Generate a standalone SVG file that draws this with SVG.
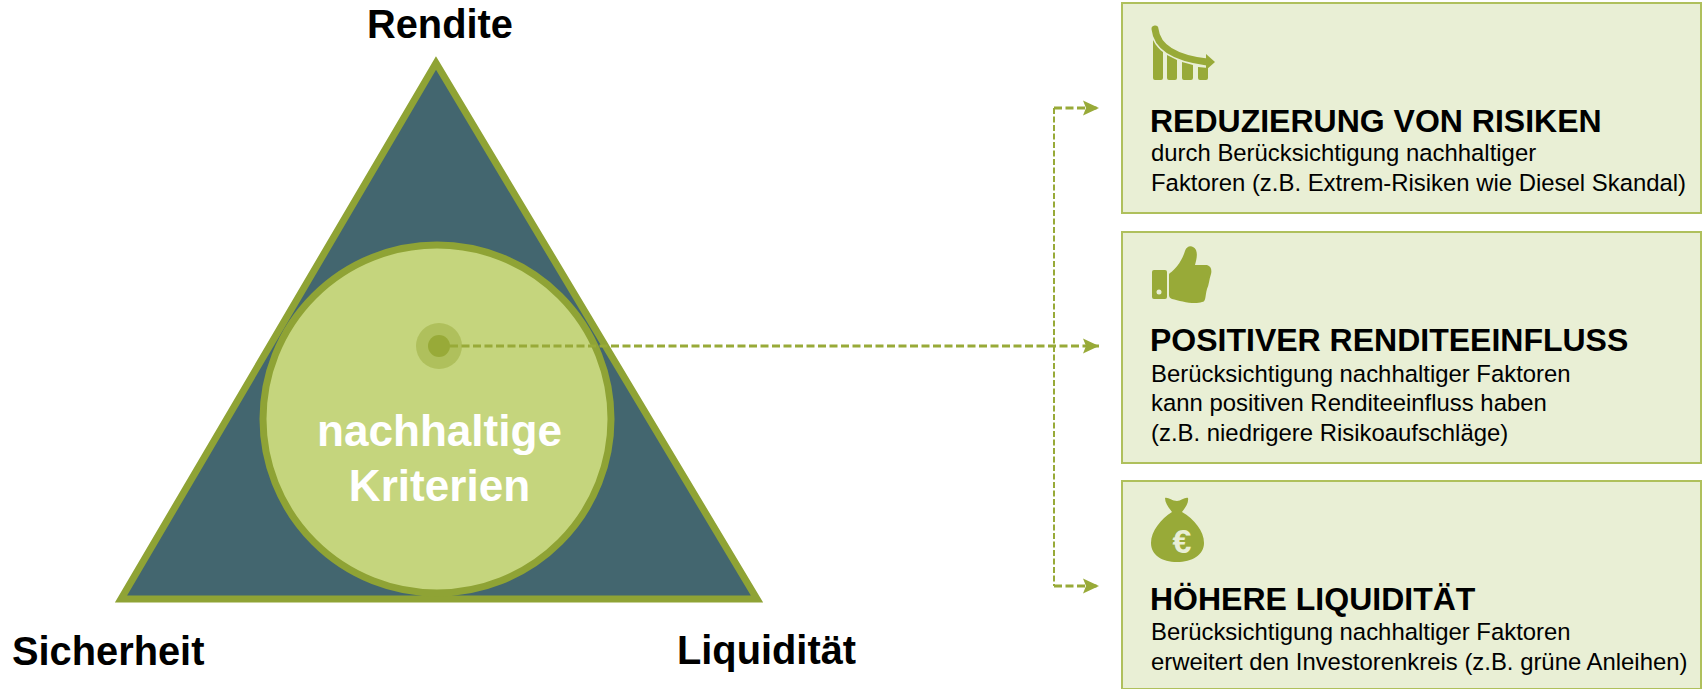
<svg xmlns="http://www.w3.org/2000/svg" width="1702" height="689" viewBox="0 0 1702 689">
<style>
.lab{font:700 39.8px "Liberation Sans",Arial,sans-serif;fill:#000}
.mid{font:700 44.1px "Liberation Sans",Arial,sans-serif;fill:#fff;text-anchor:middle}
.h{font:700 32px "Liberation Sans",Arial,sans-serif;fill:#000}
.t{font:400 23.9px "Liberation Sans",Arial,sans-serif;fill:#000}
.box{fill:#e9efd5;stroke:#afc05c;stroke-width:2}
.ico{fill:#98aa38}
.dash{fill:none;stroke:#98aa38;stroke-width:2.8;stroke-dasharray:8 3.5}
.dashv{fill:none;stroke:#98aa38;stroke-width:2;stroke-dasharray:6 2.5}
</style>
<defs><marker id="a" markerUnits="userSpaceOnUse" markerWidth="17" markerHeight="16" refX="16" refY="8" orient="auto"><path d="M0 .5L16 8L0 15.5L3 8z" fill="#98aa38"/></marker></defs>
<g id="triangle"><path d="M436 63L757 599H121z" fill="#43666f" stroke="#8fa335" stroke-width="7"/></g>
<g id="circle"><circle cx="437" cy="419" r="174" fill="#c5d57d" stroke="#8fa335" stroke-width="7"/>
<text class="mid" x="439.500" y="446">nachhaltige</text><text class="mid" x="439.500" y="501">Kriterien</text></g>
<g id="labels"><text class="lab" x="367" y="38">Rendite</text><text class="lab" x="12" y="665">Sicherheit</text><text class="lab" x="677" y="664">Liquidität</text></g>
<g id="node1"><rect class="box" x="1122" y="3" width="579" height="210"/>
<path d="M1155 29C1157 48 1175 58 1207 62" fill="none" stroke="#98aa38" stroke-width="7" stroke-linecap="round"/>
<path class="ico" d="M1206 54L1215 62L1206 70z"/>
<path class="ico" d="M1153 40C1156 46 1160 50 1163 52V78a2 2 0 0 1-2 2h-6a2 2 0 0 1-2-2zM1167 55L1177 60V78a2 2 0 0 1-2 2h-6a2 2 0 0 1-2-2zM1182 62L1193 65V78a2 2 0 0 1-2 2h-7a2 2 0 0 1-2-2zM1198 67L1208 68V78a2 2 0 0 1-2 2h-6a2 2 0 0 1-2-2z"/>
<text class="h" x="1150" y="132">REDUZIERUNG VON RISIKEN</text>
<text class="t" x="1151" y="161">durch Berücksichtigung nachhaltiger</text>
<text class="t" x="1151" y="191">Faktoren (z.B. Extrem-Risiken wie Diesel Skandal)</text></g>
<g id="node2"><rect class="box" x="1122" y="232" width="579" height="231"/>
<path class="ico" d="M1154 270h11a2 2 0 0 1 2 2v25a2 2 0 0 1-2 2h-11a2 2 0 0 1-2-2v-25a2 2 0 0 1 2-2z"/>
<path class="ico" d="M1170 273C1175 270 1182 261 1185 251C1187 245 1193 245 1196 250C1198 255 1196 261 1195 265L1207 265C1211 266 1212 270 1211 274C1209 280 1209 285 1207 289C1205 296 1206 302 1202 302C1194 305 1180 301 1172 299C1170 298 1169 297 1169 295V275C1169 274 1169 274 1170 273z"/>
<circle cx="1159" cy="292" r="2.5" fill="#e9efd5"/>
<text class="h" x="1150" y="351">POSITIVER RENDITEEINFLUSS</text>
<text class="t" x="1151" y="382">Berücksichtigung nachhaltiger Faktoren</text>
<text class="t" x="1151" y="411">kann positiven Renditeeinfluss haben</text>
<text class="t" x="1151" y="441">(z.B. niedrigere Risikoaufschläge)</text></g>
<g id="node3"><rect class="box" x="1122" y="481" width="579" height="208"/>
<path class="ico" d="M1165 498C1168 497 1172 501 1177 501C1181 501 1185 497 1188 498C1189 503 1185 508 1182 512C1194 519 1204 531 1204 543C1204 555 1192 562 1177 562C1162 562 1151 555 1151 543C1151 531 1161 519 1172 512C1169 508 1165 503 1165 498z"/>
<text x="1182" y="553" font-family="Liberation Sans,Arial,sans-serif" font-weight="700" font-size="34" fill="#e9efd5" text-anchor="middle">€</text>
<text class="h" x="1150" y="610">HÖHERE LIQUIDITÄT</text>
<text class="t" x="1151" y="640">Berücksichtigung nachhaltiger Faktoren</text>
<text class="t" x="1151" y="670">erweitert den Investorenkreis (z.B. grüne Anleihen)</text></g>
<g id="connectors">
<circle cx="439" cy="346" r="23" fill="#afc05c"/><circle cx="439" cy="346" r="11" fill="#98aa38"/>
<path class="dashv" d="M1054 108V586"/>
<path class="dash" d="M450 346H1099" marker-end="url(#a)"/>
<path class="dash" d="M1054 108H1099" marker-end="url(#a)"/>
<path class="dash" d="M1054 586H1099" marker-end="url(#a)"/>
</g>
</svg>
